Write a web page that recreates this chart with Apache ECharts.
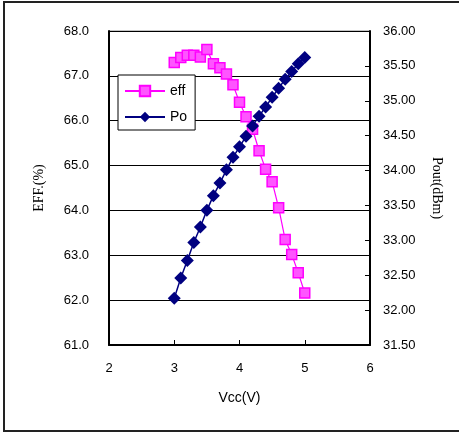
<!DOCTYPE html>
<html>
<head>
<meta charset="utf-8">
<script src="https://cdn.jsdelivr.net/npm/echarts@6/dist/echarts.min.js"></script>
<style>html,body{margin:0;padding:0;background:#fff;}#c{width:459px;height:433px;}</style>
</head>
<body>
<div id="c"></div>
<script>
var vcc = [3.0,3.1,3.2,3.3,3.4,3.5,3.6,3.7,3.8,3.9,4.0,4.1,4.2,4.3,4.4,4.5,4.6,4.7,4.8,4.9,5.0];
var effValues = [67.30,67.41,67.46,67.46,67.42,67.59,67.27,67.18,67.04,66.80,66.41,66.09,65.81,65.33,64.92,64.64,64.06,63.35,63.02,62.61,62.16];
var poValues = [32.17,32.46,32.71,32.97,33.19,33.43,33.64,33.82,34.01,34.19,34.34,34.49,34.64,34.78,34.91,35.05,35.18,35.31,35.42,35.53,35.62];
var xTicks = {min:2, max:6, interval:1};
var effTicks = {min:61, max:68, interval:1};
var poTicks = {min:31.5, max:36, interval:0.5};

function pairs(xs, ys){ return xs.map(function(x,i){ return [x, ys[i]]; }); }

var chart = echarts.init(document.getElementById('c'), null, {renderer:'canvas'});
var sans = 'Arial, "Liberation Sans", sans-serif';
var serif = '"Times New Roman", "Liberation Serif", serif';
chart.setOption({
  animation:false,
  backgroundColor:'#fff',
  graphic:[{type:'rect', shape:{x:4, y:2, width:470, height:429}, style:{fill:'none', stroke:'#222', lineWidth:2}, z:-10}],
  grid:{left:109, top:31, width:261, height:314, show:true, borderColor:'#888', borderWidth:1, backgroundColor:'transparent'},
  legend:{
    orient:'vertical', left:118, top:75, padding:[9,8,6,6], itemGap:12,
    itemWidth:40, itemHeight:13,
    backgroundColor:'#fff', borderColor:'#000', borderWidth:1,
    textStyle:{fontFamily:sans, fontSize:14, color:'#000'},
    data:['eff','Po']
  },
  xAxis:{
    type:'value', min:xTicks.min, max:xTicks.max, interval:xTicks.interval,
    name:'Vcc(V)', nameLocation:'middle', nameGap:46,
    nameTextStyle:{fontFamily:sans, fontSize:14, color:'#000'},
    axisLine:{lineStyle:{color:'#000', width:2}},
    axisTick:{inside:true, length:5, lineStyle:{color:'#000', width:1}},
    axisLabel:{fontFamily:sans, fontSize:13, color:'#000', margin:17},
    splitLine:{show:false}
  },
  yAxis:[{
    type:'value', position:'left', min:effTicks.min, max:effTicks.max, interval:effTicks.interval,
    name:'EFF.(%)', nameLocation:'middle', nameGap:63,
    nameTextStyle:{fontFamily:serif, fontSize:14, color:'#000'},
    axisLine:{show:true, lineStyle:{color:'#000', width:2}},
    axisTick:{show:true, inside:true, length:5, lineStyle:{color:'#000'}},
    axisLabel:{fontFamily:sans, fontSize:13, color:'#000', margin:20, formatter:function(v){return v.toFixed(1);}},
    splitLine:{show:true, lineStyle:{color:'#000', width:1}}
  },{
    type:'value', position:'right', min:poTicks.min, max:poTicks.max, interval:poTicks.interval,
    name:'Pout(dBm)', nameLocation:'middle', nameGap:60, nameRotate:-90,
    nameTextStyle:{fontFamily:serif, fontSize:14, color:'#000'},
    axisLine:{show:true, lineStyle:{color:'#000', width:2}},
    axisTick:{show:true, inside:true, length:5, lineStyle:{color:'#000'}},
    axisLabel:{fontFamily:sans, fontSize:13, color:'#000', margin:13, formatter:function(v){return v.toFixed(2);}},
    splitLine:{show:false}
  }],
  series:[{
    name:'eff', type:'line', yAxisIndex:0, data:pairs(vcc, effValues),
    symbol:'rect', symbolSize:10,
    lineStyle:{color:'#ff00ff', width:1.2},
    itemStyle:{color:'#ff55ff', borderColor:'#ff00ff', borderWidth:1.5},
    z:3
  },{
    name:'Po', type:'line', yAxisIndex:1, data:pairs(vcc, poValues),
    symbol:'diamond', symbolSize:13,
    lineStyle:{color:'#000080', width:1.5},
    itemStyle:{color:'#000080'},
    z:3
  }]
});
</script>
</body>
</html>
